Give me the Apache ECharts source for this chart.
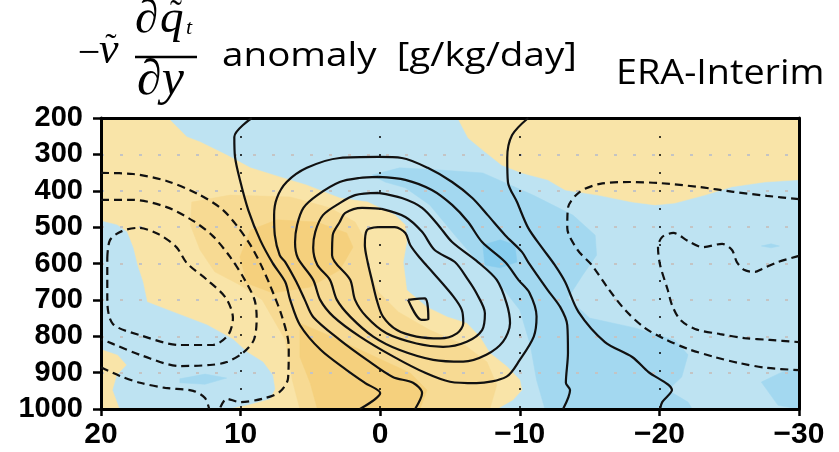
<!DOCTYPE html>
<html>
<head>
<meta charset="utf-8">
<script src="https://cdn.jsdelivr.net/npm/echarts@6/dist/echarts.min.js"></script>
<style>
  html, body { margin: 0; padding: 0; background: #ffffff; }
  #chart { width: 839px; height: 452px; }
</style>
</head>
<body>
<div id="chart"></div>
<script>
// Axis ticks: lag in days (x, reversed) and pressure level in hPa (y, reversed)
const lagTicks = [20, 10, 0, -10, -20, -30];
const levelTicks = [200, 300, 400, 500, 600, 700, 800, 900, 1000];

// Shaded anomaly regions, vertices as [lag (day), pressure (hPa)]
const warmWeakMain = [[20,200],[15.2,200],[13.85,252],[12.9,266],[11.0,302],[9.3,337],[7.2,362],[5.3,384],[2.9,420],[0.9,431],[-1.05,467],[-1.8,494],[-1.9,541],[-1.65,596],[-1.9,673],[-3.35,720],[-4.8,747],[-6.2,764],[-7.15,802],[-7.85,846],[-9.1,884],[-10.0,920],[-10.15,948],[-9.5,975],[-8.35,1000],[20,1000]];
const warmWeakUpper = [[-5.55,200],[-30,200],[-30,370],[-27.55,376],[-25.2,389],[-23.25,412],[-21.1,434],[-19.7,439],[-18.05,431],[-15.6,412],[-13.25,398],[-12.0,370],[-10.15,351],[-8.7,329],[-7.5,293],[-6.3,255]];
const coolWeakWest = [[20,483],[18.85,494],[18.15,513],[17.7,557],[17.4,604],[17.0,651],[16.7,706],[14.85,733],[12.4,769],[10.55,808],[9.55,843],[8.4,871],[7.7,907],[7.55,945],[7.9,972],[9.55,989],[11.0,1000],[18.65,1000],[19.15,948],[18.85,907],[18.15,879],[18.8,851],[20,835]];
const warmMidBand = [[13.5,431],[10.75,412],[6.45,417],[3.6,447],[1.8,486],[1.0,541],[0.9,612],[0.15,678],[-1.3,733],[-3.55,783],[-6.05,824],[-7.65,871],[-8.35,934],[-7.85,1000],[5.75,1000],[6.3,920],[6.8,810],[8.45,700],[10.05,659],[11.85,623],[12.9,563],[13.6,494]];
const warmStrongMid = [[10.05,582],[9.3,508],[7.4,480],[4.55,486],[2.4,516],[1.95,555],[2.9,618],[5.05,665],[7.7,681],[9.55,654]];
const warmStrongLow = [[5.75,764],[3.4,802],[0.95,846],[-2.15,901],[-3.35,948],[-2.85,1000],[4.5,1000],[5.0,930],[5.75,857]];
const coolMidBand = [[0.6,357],[-1.4,337],[-4.3,343],[-7.35,351],[-10.95,412],[-13.8,467],[-15.4,522],[-15.5,577],[-14.5,632],[-13.45,695],[-15.0,750],[-18.25,777],[-21.1,810],[-22.05,851],[-21.6,912],[-20.6,948],[-22.05,981],[-22.35,1000],[-11.8,1000],[-11.2,920],[-10.75,824],[-10.0,728],[-8.6,659],[-7.0,596],[-5.35,522],[-3.55,439],[-1.8,392],[-0.35,376]];
const coolStrongCore = [[-7.35,549],[-8.6,535],[-9.65,549],[-9.8,596],[-8.6,612],[-7.5,604]];
const coolMidWest = [[14.35,917],[12.55,904],[11.0,915],[12.55,932],[14.35,928]];
const coolMidEast = [[-27.3,926],[-28.8,898],[-30,890],[-30,1000],[-28.5,990]];
const coolMidSpot = [[-27.3,552],[-28.0,546],[-28.6,552],[-28.0,557]];

// Positive contours (solid), vertices as [lag, hPa]
const posOuterWest = [[9.2,200],[10.45,252],[10.4,307],[10.05,370],[9.45,453],[8.6,535],[7.7,599],[6.8,651],[6.45,700],[5.75,769],[4.25,838],[2.4,893],[1.1,928],[0,956],[1.45,1000]];
const posArch = [[-2.5,1000],[-3.0,956],[-2.35,928],[-0.9,912],[0.95,865],[2.9,810],[4.8,747],[5.4,700],[6.0,651],[6.8,596],[7.2,577],[7.55,522],[7.6,467],[7.4,420],[6.7,376],[5.25,337],[2.9,310],[0.15,307],[-1.55,310],[-3.4,337],[-5.15,376],[-6.6,420],[-7.7,467],[-8.95,522],[-10.15,568],[-10.6,596],[-12.0,673],[-12.9,720],[-13.4,769],[-13.45,846],[-13.3,928],[-13.6,948],[-13.1,1000]];
const posRing1 = [[0.15,362],[-1.8,370],[-3.7,398],[-5.15,439],[-6.3,486],[-7.3,541],[-8.95,596],[-9.9,645],[-10.7,681],[-11.2,746],[-11.0,801],[-10.0,865],[-9.05,911],[-6.9,929],[-5.0,925],[-3.3,902],[-0.95,856],[1.45,801],[3.35,746],[4.3,700],[4.8,645],[5.9,585],[6.1,541],[5.95,494],[5.5,447],[4.5,412],[2.9,376],[1.5,365],[0.15,362]];
const posRing2 = [[0.15,406],[-1.55,420],[-3.0,447],[-4.15,494],[-5.15,541],[-7.0,596],[-8.35,645],[-9.05,709],[-9.3,764],[-8.8,815],[-7.6,851],[-5.95,870],[-3.8,865],[-1.4,838],[0.5,801],[2.15,746],[3.1,700],[3.6,645],[4.5,604],[4.8,557],[4.65,513],[4.1,467],[2.9,434],[1.8,412],[0.15,406]];
const posRing3 = [[-0.1,450],[-1.8,472],[-3.0,513],[-3.9,563],[-5.35,596],[-6.3,645],[-6.9,682],[-7.5,737],[-7.3,783],[-6.2,815],[-4.5,829],[-2.6,820],[-0.45,792],[1.0,746],[1.8,700],[2.15,645],[3.45,577],[3.4,522],[2.9,486],[2.5,461],[1.3,447],[-0.1,450]];
const posRing4 = [[0.15,500],[-1.05,500],[-1.8,516],[-2.15,549],[-2.85,585],[-3.8,626],[-5.25,691],[-5.85,728],[-5.95,764],[-5.5,792],[-4.3,806],[-2.6,801],[-1.2,783],[-0.2,746],[0.25,700],[0.6,645],[0.9,596],[1.1,549],[0.95,508],[0.15,500]];
const posPeak = [[-2.0,700],[-3.2,696],[-3.45,753],[-2.95,755],[-2.0,700]];
const posOuterEast = [[-10.6,200],[-9.45,247],[-9.1,310],[-9.15,376],[-9.8,431],[-10.6,502],[-11.6,557],[-12.5,604],[-13.25,651],[-14.2,733],[-16.1,816],[-18.05,857],[-19.2,898],[-20.9,948],[-20.2,981],[-20.05,1000]];

// Negative contours (dashed)
const negWest1 = [[20,351],[17.7,354],[15.3,373],[13.05,409],[11.35,450],[10.25,497],[9.3,549],[8.6,599],[7.9,659],[7.0,750],[6.55,830],[6.6,915],[7.2,953],[8.45,972],[10.05,981],[11.0,972],[11.5,1000]];
const negWest2 = [[20,425],[17.7,425],[15.3,445],[13.4,483],[12.0,524],[10.75,582],[9.7,645],[9.0,700],[8.85,750],[9.05,810],[9.85,846],[11.0,871],[12.2,879],[14.35,882],[17.0,854],[19.15,821],[20,808]];
const negWest3 = [[19.55,585],[19.35,535],[18.5,511],[17.35,502],[15.9,519],[14.6,555],[13.85,599],[12.4,645],[11.05,695],[10.55,750],[10.9,797],[12.0,824],[14.35,824],[17.2,797],[19.15,766],[19.55,700],[19.55,632],[19.55,585]];
const negWest4 = [[20,885],[18.65,909],[17.2,928],[15.4,942],[13.4,950],[12.55,970],[12.25,1000]];
const negEast1 = [[-30,423],[-27.7,414],[-25.3,403],[-22.9,390],[-20.05,379],[-17.9,376],[-15.75,381],[-14.3,403],[-13.45,447],[-13.4,502],[-14.15,563],[-15.15,604],[-16.3,667],[-17.55,728],[-18.95,777],[-20.4,808],[-22.05,835],[-23.95,857],[-25.75,874],[-27.7,887],[-30,893]];
const negEast2 = [[-30,579],[-28.5,596],[-27.35,615],[-26.85,623],[-26.1,618],[-25.55,596],[-25.2,563],[-24.5,546],[-23.1,555],[-22.05,538],[-21.0,516],[-20.2,527],[-19.9,555],[-20.05,604],[-20.6,673],[-20.9,714],[-21.5,755],[-22.55,780],[-24.35,794],[-26.1,805],[-27.9,810],[-30,816]];

// Fill colours by class
const COL = {
  coolWeak: '#bee3f2', coolMid: '#a3d8f0', coolStrong: '#88cdee',
  warmWeak: '#f9e4a8', warmMid: '#f7da93', warmStrong: '#f5d07d'
};
const shadeLayers = [
  { pts: warmWeakMain, color: COL.warmWeak },
  { pts: warmWeakUpper, color: COL.warmWeak },
  { pts: coolWeakWest, color: COL.coolWeak },
  { pts: warmMidBand, color: COL.warmMid },
  { pts: warmStrongMid, color: COL.warmStrong },
  { pts: warmStrongLow, color: COL.warmStrong },
  { pts: coolMidBand, color: COL.coolMid },
  { pts: coolStrongCore, color: COL.coolStrong },
  { pts: coolMidWest, color: COL.coolMid },
  { pts: coolMidEast, color: COL.coolMid },
  { pts: coolMidSpot, color: COL.coolMid }
];

const solidLines = [posOuterWest, posArch, posRing1, posRing2, posRing3, posRing4, posPeak, posOuterEast];
const dashedLines = [negWest1, negWest2, negWest3, negWest4, negEast1, negEast2];

const fmtLag = v => (v < 0 ? '\u2212' + (-v) : String(v));
const fmtLevel = v => String(v);

const contourSeries = [];
solidLines.forEach(d => contourSeries.push({
  type: 'line', data: d, symbol: 'none', smooth: 0.3, silent: true, z: 4,
  lineStyle: { color: '#111', width: 2.2, type: 'solid' }, animation: false
}));
dashedLines.forEach(d => contourSeries.push({
  type: 'line', data: d, symbol: 'none', smooth: 0.3, silent: true, z: 4,
  lineStyle: { color: '#111', width: 2.2, type: [8, 5] }, animation: false
}));

const serif = '"Liberation Serif", "DejaVu Serif", serif';
const sans = '"Open Sans", "Noto Sans", sans-serif';
const tickFont = '"Liberation Sans", Arial, sans-serif';

const chart = echarts.init(document.getElementById('chart'), null, { renderer: 'canvas' });
chart.setOption({
  animation: false,
  backgroundColor: '#ffffff',
  grid: { left: 101, right: 40, top: 118, bottom: 43, containLabel: false, outerBoundsMode: 'none',
          show: true, backgroundColor: COL.coolWeak, borderWidth: 0 },
  xAxis: [{
    type: 'value', min: -30, max: 20, interval: 10, inverse: true, position: 'bottom', z: 3,
    axisLine: { show: true, onZero: false, lineStyle: { color: '#000', width: 3 } },
    axisTick: { show: true, length: 7, lineStyle: { color: '#000', width: 2.5 } },
    axisLabel: { color: '#000', fontSize: 30, fontWeight: 'bold', fontFamily: tickFont,
                 margin: 11, formatter: fmtLag },
    splitLine: { show: true, lineStyle: { color: '#000', width: 1.5, type: [2, 16] } }
  }, {
    type: 'value', min: -30, max: 20, interval: 10, inverse: true, position: 'top', z: 3,
    axisLine: { show: true, onZero: false, lineStyle: { color: '#000', width: 3 } },
    axisTick: { show: false }, axisLabel: { show: false }, splitLine: { show: false }
  }],
  yAxis: [{
    type: 'value', min: 200, max: 1000, interval: 100, inverse: true, position: 'left', z: 3,
    axisLine: { show: true, onZero: false, lineStyle: { color: '#000', width: 3 } },
    axisTick: { show: true, length: 8, lineStyle: { color: '#000', width: 2.5 } },
    axisLabel: { color: '#000', fontSize: 29, fontWeight: 'bold', fontFamily: tickFont,
                 margin: 18, formatter: fmtLevel },
    splitLine: { show: true, lineStyle: { color: '#c4c4c4', width: 2, type: [3, 16] } }
  }, {
    type: 'value', min: 200, max: 1000, interval: 100, inverse: true, position: 'right', z: 3,
    axisLine: { show: true, onZero: false, lineStyle: { color: '#000', width: 3 } },
    axisTick: { show: false }, axisLabel: { show: false }, splitLine: { show: false }
  }],
  graphic: [
    { type: 'text', x: 89, y: 54, style: { text: '\u2212', font: '40px ' + serif, fill: '#000', align: 'center', verticalAlign: 'middle' } },
    { type: 'text', x: 99, y: 51, style: { text: 'v', font: 'italic 44px ' + serif, fill: '#000', align: 'left', verticalAlign: 'middle' } },
    { type: 'text', x: 111, y: 48, style: { text: '\u02DC', font: '34px ' + serif, fill: '#000', align: 'center', verticalAlign: 'middle' } },
    { type: 'text', x: 135, y: 20, style: { text: '\u2202', font: 'italic 47px ' + serif, fill: '#000', align: 'left', verticalAlign: 'middle' } },
    { type: 'text', x: 160, y: 20, style: { text: 'q', font: 'italic 47px ' + serif, fill: '#000', align: 'left', verticalAlign: 'middle' } },
    { type: 'text', x: 176, y: 16, style: { text: '\u02DC', font: '36px ' + serif, fill: '#000', align: 'center', verticalAlign: 'middle' } },
    { type: 'text', x: 186, y: 28, style: { text: 't', font: 'italic 22px ' + serif, fill: '#000', align: 'left', verticalAlign: 'middle' } },
    { type: 'line', shape: { x1: 135, y1: 57, x2: 197, y2: 57 }, style: { stroke: '#000', lineWidth: 2.5 } },
    { type: 'text', x: 137, y: 81, style: { text: '\u2202y', font: 'italic 50px ' + serif, fill: '#000', align: 'left', verticalAlign: 'middle' } },
    { type: 'text', x: 222, y: 57, scaleX: 1.17, style: { text: 'anomaly  [g/kg/day]', font: '33px ' + sans, fill: '#000', align: 'left', verticalAlign: 'middle' } },
    { type: 'text', x: 616, y: 74, scaleX: 1.11, style: { text: 'ERA-Interim', font: '34px ' + sans, fill: '#000', align: 'left', verticalAlign: 'middle' } }
  ],
  series: [{
    type: 'custom', coordinateSystem: 'cartesian2d', silent: true, z: 1, clip: true,
    data: shadeLayers.map(s => s.pts[0]),
    renderItem: (params, api) => {
      const layer = shadeLayers[params.dataIndex];
      return { type: 'polygon', shape: { points: layer.pts.map(p => api.coord(p)) },
               style: { fill: layer.color, stroke: layer.color, lineWidth: 0.5 } };
    }
  }].concat(contourSeries)
});
</script>
</body>
</html>
